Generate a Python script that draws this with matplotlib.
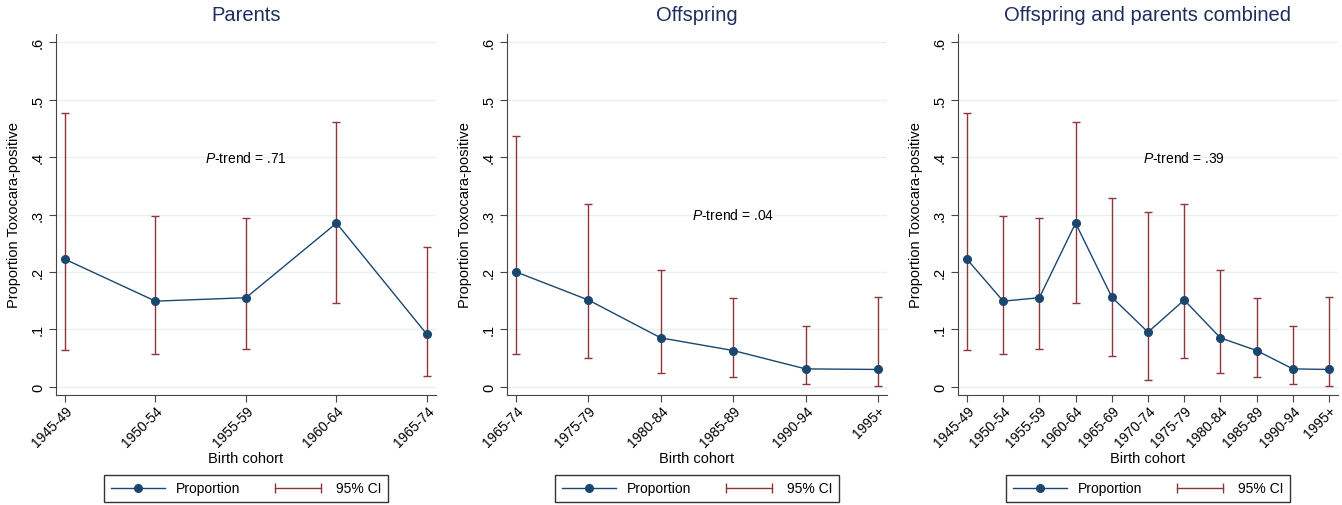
import matplotlib
matplotlib.use('Agg')
import matplotlib.pyplot as plt
from matplotlib.lines import Line2D
from matplotlib.legend_handler import HandlerLine2D

plt.rcParams['font.family'] = ['Liberation Sans', 'DejaVu Sans']
plt.rcParams['mathtext.fontset'] = 'custom'
plt.rcParams['mathtext.rm'] = 'Liberation Sans'
plt.rcParams['mathtext.it'] = 'Liberation Sans:italic'

# parents
par_cohorts = ['1945-49', '1950-54', '1955-59', '1960-64', '1965-74']
par_prop = [0.222, 0.149, 0.155, 0.285, 0.091]
par_lo = [0.064, 0.057, 0.065, 0.146, 0.019]
par_hi = [0.476, 0.298, 0.294, 0.462, 0.243]

# offspring
off_cohorts = ['1965-74', '1975-79', '1980-84', '1985-89', '1990-94', '1995+']
off_prop = [0.200, 0.151, 0.085, 0.063, 0.031, 0.030]
off_lo = [0.057, 0.050, 0.023, 0.017, 0.004, 0.001]
off_hi = [0.436, 0.319, 0.203, 0.155, 0.106, 0.157]

# combined
all_cohorts = ['1945-49', '1950-54', '1955-59', '1960-64', '1965-69', '1970-74',
               '1975-79', '1980-84', '1985-89', '1990-94', '1995+']
all_prop = [0.222, 0.149, 0.155, 0.285, 0.156, 0.095, 0.151, 0.085, 0.063, 0.031, 0.030]
all_lo = [0.064, 0.057, 0.065, 0.146, 0.053, 0.012, 0.050, 0.023, 0.017, 0.004, 0.001]
all_hi = [0.476, 0.298, 0.294, 0.462, 0.328, 0.304, 0.319, 0.203, 0.155, 0.106, 0.157]

titles = ['Parents', 'Offspring', 'Offspring and parents combined']
ptrend = ['.71', '.04', '.39']
ptrend_pos = [(2, 0.4), (3, 0.3), (6, 0.4)]

navy = '#1a476f'
maroon = '#90353b'
title_col = '#1e2f5e'
grid_col = '#e8f0f2'
spine_col = '#444444'

panels = [(par_cohorts, par_prop, par_lo, par_hi),
          (off_cohorts, off_prop, off_lo, off_hi),
          (all_cohorts, all_prop, all_lo, all_hi)]

W, H = 1342, 506
fig = plt.figure(figsize=(W / 100, H / 100), dpi=100)
lefts = [56, 507, 958]
aw = 380
bottom_px, top_px = 396, 35
ah = bottom_px - top_px

for k, (cats, prop, lo, hi) in enumerate(panels):
    ax = fig.add_axes([lefts[k] / W, 1 - bottom_px / H, aw / W, ah / H])
    n = len(cats)
    xs = list(range(n))
    pad = 9 / (aw - 18) * (n - 1)
    ax.set_xlim(-pad, n - 1 + pad)
    ax.set_ylim(-0.0145, 0.6145)

    for yv in [0, 0.1, 0.2, 0.3, 0.4, 0.5, 0.6]:
        ax.axhline(yv, color=grid_col, lw=1, zorder=0)

    yerr = [[p - l for p, l in zip(prop, lo)], [h - p for p, h in zip(prop, hi)]]
    ax.errorbar(xs, prop, yerr=yerr, fmt='none', ecolor=maroon, elinewidth=1,
                capsize=3, capthick=1, zorder=2)
    ax.plot(xs, prop, color=navy, lw=1, marker='o', ms=5.5, zorder=3)

    ax.set_xticks(xs)
    ax.set_xticklabels(cats, rotation=45, ha='right', rotation_mode='anchor', fontsize=10)
    ax.set_yticks([0, 0.1, 0.2, 0.3, 0.4, 0.5, 0.6])
    ax.set_yticklabels(['0', '.1', '.2', '.3', '.4', '.5', '.6'], rotation=90, va='center',
                       fontsize=10.5)
    ax.tick_params(direction='out', length=5, color=spine_col)
    ax.tick_params(axis='x', pad=1)
    ax.tick_params(axis='y', pad=3)
    for s in ['top', 'right']:
        ax.spines[s].set_visible(False)
    for s in ['left', 'bottom']:
        ax.spines[s].set_color(spine_col)
    ax.set_ylabel('Proportion Toxocara-positive', fontsize=10.5, va='center')
    ax.yaxis.set_label_coords(-42 / aw, 0.5)
    ax.set_xlabel('Birth cohort', fontsize=10.5, va='center')
    ax.xaxis.set_label_coords(0.5, -(459 - bottom_px) / ah)
    ax.set_title(titles[k], fontsize=14.5, color=title_col, pad=10)

    tx, ty = ptrend_pos[k]
    ax.text(tx, ty, r'$\it{P}$-trend = ' + ptrend[k], ha='center', va='center', fontsize=10)

    h1 = Line2D([], [], color=navy, lw=1, marker='o', ms=5.5)
    h2 = Line2D([], [], color=maroon, lw=1, marker='|', ms=7, mew=1)
    leg = ax.legend([h1, h2], ['Proportion', '95% CI'], ncol=2, loc='center',
                    bbox_to_anchor=((lefts[k] + aw / 2) / W, (H - 489.5) / H),
                    bbox_transform=fig.transFigure, frameon=True, fancybox=False,
                    edgecolor='black', fontsize=10, handlelength=3.9, handletextpad=0.8,
                    columnspacing=2.2, borderpad=0.45,
                    handler_map={h1: HandlerLine2D(numpoints=1), h2: HandlerLine2D(numpoints=2)})
    leg.get_frame().set_linewidth(1)

fig.savefig('out.png', dpi=100)
